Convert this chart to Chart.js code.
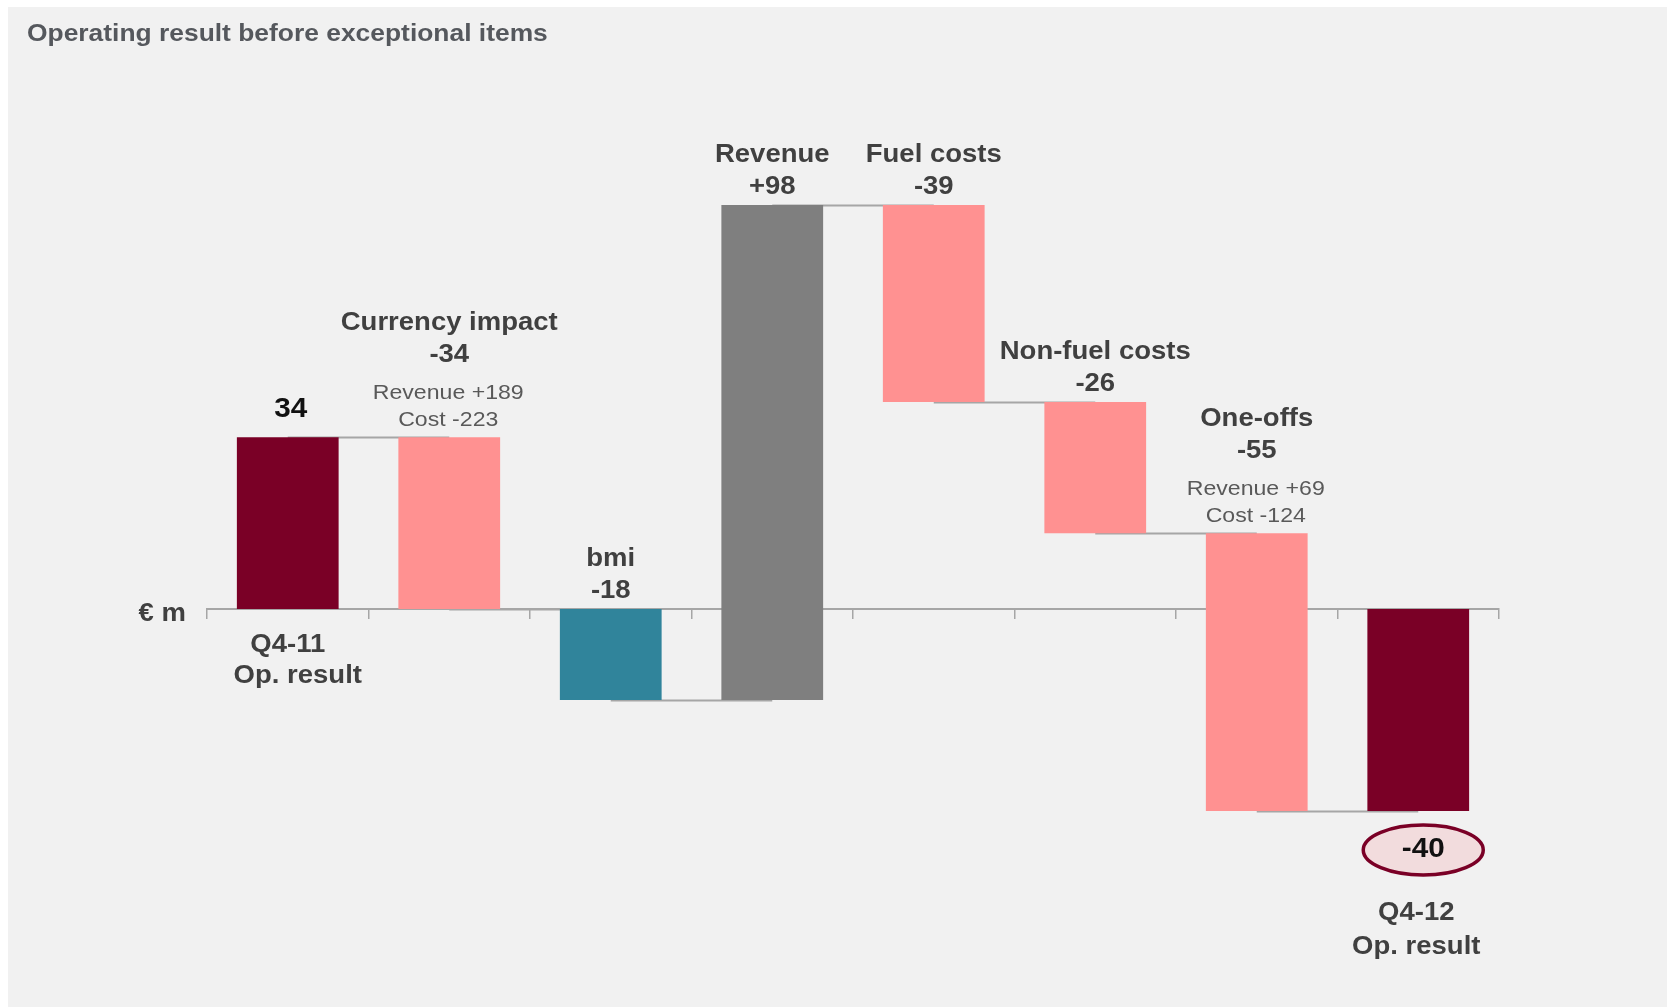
<!DOCTYPE html>
<html>
<head>
<meta charset="utf-8">
<script src="https://cdn.jsdelivr.net/npm/chart.js@4.4.1/dist/chart.umd.min.js"></script>
<style>
  html, body { margin: 0; padding: 0; background: #ffffff; }
  canvas { display: block; }
</style>
</head>
<body>
<canvas id="bridge" width="1667" height="1007"></canvas>
<script>
// waterfall: Q4-11 operating result -> Q4-12 operating result (EUR m)
const categories = ['Q4-11', 'Currency impact', 'bmi', 'Revenue', 'Fuel costs', 'Non-fuel costs', 'One-offs', 'Q4-12'];
const deltas = [34, -34, -18, 98, -39, -26, -55, -40];
const isTotal = [true, false, false, false, false, false, false, true];
const subLines = [[], ['Revenue +189', 'Cost -223'], [], [], [], [], ['Revenue +69', 'Cost -124'], []];
const totalCaption = 'Op. result';
const unitLabel = '€ m';
const titleText = 'Operating result before exceptional items';

const barColors = ['#7a0026', '#ff9191', '#30849b', '#7f7f7f', '#ff9191', '#ff9191', '#ff9191', '#7a0026'];

// floating bars from the running total
const floating = [];
const levels = [];
let run = 0;
deltas.forEach((d, i) => {
    if (isTotal[i]) {
        floating.push([0, d]);
        run = d;
    } else {
        floating.push([run, run + d]);
        run += d;
    }
    levels.push(run);
});

const SX = 1.1; // source text looks horizontally stretched
const FONT = '"Liberation Sans", Arial, sans-serif';

function drawText(ctx, text, x, y, font, color, align) {
    ctx.save();
    ctx.translate(x, y);
    ctx.scale(SX, 1);
    ctx.font = font;
    ctx.fillStyle = color;
    ctx.textAlign = align || 'center';
    ctx.textBaseline = 'middle';
    ctx.fillText(text, 0, 0);
    ctx.restore();
}

const fmt = v => (v > 0 ? '+' : '') + v;

const decor = {
    id: 'decor',
    beforeDraw(chart) {
        const ctx = chart.ctx;
        ctx.save();
        ctx.fillStyle = '#f1f1f1';
        ctx.fillRect(8, 7, chart.width - 8, chart.height - 7);
        ctx.restore();
        drawText(ctx, titleText, 27, 34, 'bold 24px ' + FONT, '#55585d', 'left');
    },
    beforeDatasetsDraw(chart) {
        const ctx = chart.ctx;
        const x = chart.scales.x, y = chart.scales.y;
        ctx.save();
        ctx.strokeStyle = '#a6a6a6';
        ctx.lineWidth = 2;
        for (let i = 0; i < levels.length - 1; i++) {
            const py = Math.round(y.getPixelForValue(levels[i])) + 0.5;
            ctx.beginPath();
            ctx.moveTo(x.getPixelForValue(i), py);
            ctx.lineTo(x.getPixelForValue(i + 1), py);
            ctx.stroke();
        }
        ctx.restore();
    },
    afterDatasetsDraw(chart) {
        const ctx = chart.ctx;
        const x = chart.scales.x, y = chart.scales.y;
        const zero = y.getPixelForValue(0);
        const boldF = 'bold 25px ' + FONT;
        const smallF = '21px ' + FONT;
        const bigF = 'bold 27px ' + FONT;

        deltas.forEach((d, i) => {
            const cx = x.getPixelForValue(i);
            const top = y.getPixelForValue(Math.max(floating[i][0], floating[i][1]));
            const bottom = y.getPixelForValue(Math.min(floating[i][0], floating[i][1]));
            if (isTotal[i] && d >= 0) {
                drawText(ctx, String(d), cx + 3, top - 28, bigF, '#111111');
                drawText(ctx, categories[i], cx, zero + 36, boldF, '#404040');
                drawText(ctx, totalCaption, cx + 10, zero + 67, boldF, '#404040');
            } else if (isTotal[i]) {
                const ey = bottom + 39;
                ctx.save();
                ctx.beginPath();
                ctx.ellipse(cx + 5, ey, 60, 25, 0, 0, Math.PI * 2);
                ctx.fillStyle = '#f2dcdd';
                ctx.fill();
                ctx.lineWidth = 3.5;
                ctx.strokeStyle = '#7a0026';
                ctx.stroke();
                ctx.restore();
                drawText(ctx, String(d), cx + 5, ey, bigF, '#111111');
                drawText(ctx, categories[i], cx - 2, ey + 63, boldF, '#404040');
                drawText(ctx, totalCaption, cx - 2, ey + 97, boldF, '#404040');
            } else {
                let py = top - 17;
                const subs = subLines[i];
                if (!subs.length) py -= 1;
                for (let k = subs.length - 1; k >= 0; k--) {
                    drawText(ctx, subs[k], cx - 1, py, smallF, '#595959');
                    py -= 27;
                }
                if (subs.length) py -= 11;
                drawText(ctx, fmt(d), cx, py, boldF, '#404040');
                drawText(ctx, categories[i], cx, py - 32, boldF, '#404040');
            }
        });

        drawText(ctx, unitLabel, 186, zero + 5, boldF, '#404040', 'right');
    }
};

new Chart(document.getElementById('bridge'), {
    type: 'bar',
    data: {
        labels: categories,
        datasets: [{
            data: floating,
            backgroundColor: barColors,
            borderWidth: 0,
            barPercentage: 0.63,
            categoryPercentage: 1
        }]
    },
    options: {
        responsive: false,
        animation: false,
        devicePixelRatio: 1,
        layout: { padding: { left: 207, right: 168, top: 104, bottom: 95 } },
        plugins: {
            legend: { display: false },
            tooltip: { enabled: false }
        },
        scales: {
            x: {
                position: { y: 0 },
                grid: {
                    display: true,
                    drawOnChartArea: false,
                    drawTicks: true,
                    tickLength: 9,
                    color: '#a6a6a6',
                    lineWidth: 1.5,
                    offset: true
                },
                ticks: { display: false },
                border: { display: true, color: '#a6a6a6', width: 2 }
            },
            y: {
                display: false,
                min: -60,
                max: 100
            }
        }
    },
    plugins: [decor]
});
</script>
</body>
</html>
